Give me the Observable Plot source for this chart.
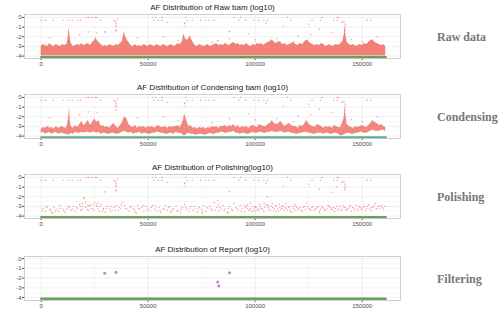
<!DOCTYPE html>
<html><head><meta charset="utf-8">
<script src="https://cdn.jsdelivr.net/npm/d3@7"></script>
<script src="https://cdn.jsdelivr.net/npm/@observablehq/plot@0.6"></script>
<style>
body{margin:0;background:#fff;}
#wrap{position:relative;width:498px;height:322px;overflow:hidden;background:#fff;}
.panel{position:absolute;left:0;}
.lab{position:absolute;left:437px;font-family:"Liberation Serif",serif;font-weight:bold;font-size:12px;color:#777;transform:translateY(-50%);white-space:nowrap;}
</style></head><body><div id="wrap"></div>
<script>
// ---- data (positions in thousands of bp, values are log10 AF) ----
const titles = ["AF Distribution of Raw bam (log10)", "AF Distribution of Condensing bam (log10)", "AF Distribution of Polishing(log10)", "AF Distribution of Report (log10)"];
const stepLabels = ["Raw data", "Condensing", "Polishing", "Filtering"];
const xTicks = [0, 50000, 100000, 150000];
const xMinor = [25000, 75000, 125000];
const yTicks = [0, -1, -2, -3, -4];
const yMinor = [-0.5, -1.5, -2.5, -3.5];
const bandFloor = -4.0;        // lowest non-zero log10 AF in raw bam
const zeroAF = [[0, -4.12], [161, -4.12]]; // AF = 0 sites

// raw bam dense band: [pos(k), top log10 AF]
const rawTop = [[0,-3.0],[1,-2.8],[2,-2.9],[3,-3.0],[4,-2.7],[5,-2.9],[6,-3.0],[7,-2.8],[8,-2.9],[9,-3.0],[10,-2.8],[11,-2.9],[12,-2.8],[12.5,-2.3],[13,-1.1],[13.5,-2.0],[14,-2.7],[15,-3.0],[16,-2.9],[17,-2.8],[18,-2.9],[19,-2.7],[20,-2.9],[21,-2.8],[22,-2.7],[23,-2.9],[24,-2.6],[25,-2.4],[25.5,-2.1],[26,-2.3],[27,-2.6],[28,-2.8],[29,-3.0],[30,-2.9],[31,-3.0],[32,-2.8],[33,-2.9],[34,-3.0],[35,-2.8],[36,-2.9],[37,-2.7],[38,-2.5],[38.7,-1.5],[39.3,-1.9],[40,-2.3],[41,-2.6],[42,-2.9],[43,-3.0],[44,-2.8],[45,-3.0],[46,-2.9],[47,-3.0],[48,-2.8],[49,-2.9],[50,-3.0],[51,-2.8],[52,-2.9],[53,-3.0],[54,-2.8],[55,-2.9],[56,-3.0],[57,-2.8],[58,-2.9],[59,-3.0],[60,-2.9],[61,-2.8],[62,-3.0],[63,-2.9],[64,-2.7],[65,-2.8],[66,-2.5],[66.7,-1.7],[67.2,-2.1],[68,-2.4],[69,-2.2],[69.7,-1.9],[70.3,-2.3],[71,-2.6],[72,-2.9],[73,-3.0],[74,-2.8],[75,-2.9],[76,-3.0],[77,-2.9],[78,-2.8],[79,-3.0],[80,-2.9],[81,-2.8],[82,-2.7],[83,-2.9],[84,-2.8],[85,-2.9],[86,-2.7],[87,-2.8],[88,-2.9],[89,-2.7],[90,-2.6],[91,-2.8],[92,-2.7],[93,-2.9],[94,-2.8],[95,-2.9],[96,-2.7],[97,-2.9],[98,-3.0],[99,-2.8],[100,-2.9],[101,-2.7],[102,-2.8],[103,-2.7],[104,-2.9],[105,-2.7],[106,-2.6],[107,-2.5],[108,-2.3],[109,-2.6],[110,-2.7],[111,-2.5],[112,-2.6],[113,-2.8],[114,-2.7],[115,-2.9],[116,-2.8],[117,-2.7],[118,-2.6],[119,-2.8],[120,-2.9],[121,-2.7],[122,-2.8],[123,-2.6],[124,-2.3],[125,-2.5],[126,-2.7],[127,-2.8],[128,-2.9],[129,-2.8],[130,-2.9],[131,-2.7],[132,-2.8],[133,-3.0],[134,-2.9],[135,-2.8],[136,-3.0],[137,-2.9],[138,-2.8],[139,-2.9],[140,-2.7],[141,-2.5],[141.6,-1.8],[142,-1.0],[142.4,-1.9],[143,-2.6],[144,-2.8],[145,-2.9],[146,-2.8],[147,-3.0],[148,-2.9],[149,-2.8],[150,-2.9],[151,-2.7],[152,-2.8],[153,-2.6],[154,-2.4],[155,-2.3],[156,-2.6],[157,-2.7],[158,-2.8],[159,-2.9],[160,-2.8],[161,-3.0]];

// condensing band: [pos(k), low, high]
const condBand = [[0,-3.7,-3.3],[1,-3.6,-3.1],[2,-3.8,-3.2],[3,-3.7,-3.0],[4,-3.6,-3.2],[5,-3.8,-3.1],[6,-3.7,-3.3],[7,-3.6,-3.0],[8,-3.8,-3.2],[9,-3.7,-3.1],[10,-3.7,-3.0],[11,-3.8,-3.2],[12,-3.8,-3.1],[12.8,-3.9,-2.2],[13.2,-3.9,-1.1],[13.6,-3.8,-2.4],[14,-3.7,-3.0],[15,-3.8,-3.2],[16,-3.6,-2.9],[17,-3.7,-3.1],[18,-3.7,-2.8],[19,-3.6,-2.5],[20,-3.7,-2.9],[21,-3.6,-2.7],[22,-3.6,-2.4],[23,-3.7,-2.9],[24,-3.6,-2.6],[25,-3.6,-2.2],[26,-3.7,-2.6],[27,-3.6,-2.4],[28,-3.8,-3.0],[29,-3.7,-2.9],[30,-3.7,-3.1],[31,-3.8,-3.0],[32,-3.8,-3.2],[33,-3.7,-2.9],[34,-3.7,-2.7],[35,-3.8,-3.0],[36,-3.8,-3.2],[37,-3.7,-2.9],[38,-3.6,-2.6],[39,-3.5,-2.0],[40,-3.6,-2.2],[41,-3.7,-2.8],[42,-3.6,-3.0],[43,-3.8,-3.1],[44,-3.7,-2.9],[45,-3.7,-3.2],[46,-3.6,-3.0],[47,-3.8,-3.1],[48,-3.7,-3.0],[49,-3.7,-3.2],[50,-3.8,-3.0],[51,-3.8,-3.1],[52,-3.7,-3.0],[53,-3.7,-3.2],[54,-3.6,-3.0],[55,-3.6,-2.9],[56,-3.7,-3.1],[57,-3.7,-3.1],[58,-3.8,-3.0],[59,-3.8,-3.2],[60,-3.7,-3.0],[61,-3.7,-3.1],[62,-3.8,-3.0],[63,-3.6,-3.0],[64,-3.7,-2.9],[65,-3.7,-3.1],[66.5,-3.9,-2.4],[67,-4.0,-1.7],[68,-3.8,-2.4],[69,-3.7,-3.0],[70,-3.8,-2.9],[71,-3.8,-3.2],[72,-3.9,-3.1],[73,-3.9,-3.3],[74,-3.8,-3.1],[75,-3.8,-3.2],[76,-3.9,-3.1],[77,-3.9,-3.3],[78,-3.8,-3.1],[79,-3.7,-3.2],[80,-3.8,-3.0],[81,-3.8,-3.1],[82,-3.7,-3.0],[83,-3.7,-3.2],[84,-3.6,-3.0],[85,-3.6,-3.0],[86,-3.7,-2.9],[87,-3.7,-3.1],[88,-3.6,-2.9],[89,-3.6,-3.0],[90,-3.5,-2.8],[91,-3.7,-3.1],[92,-3.7,-2.9],[93,-3.8,-3.2],[94,-3.7,-3.0],[95,-3.7,-3.1],[96,-3.8,-3.0],[97,-3.8,-3.2],[98,-3.7,-3.0],[99,-3.6,-2.9],[100,-3.7,-3.0],[101,-3.7,-3.1],[102,-3.6,-2.8],[103,-3.6,-2.9],[104,-3.7,-3.0],[105,-3.7,-3.0],[106,-3.6,-2.8],[107,-3.6,-2.7],[108,-3.5,-2.4],[109,-3.6,-2.7],[110,-3.6,-2.8],[111,-3.6,-2.7],[112,-3.5,-2.5],[113,-3.6,-2.8],[114,-3.7,-3.0],[115,-3.6,-2.8],[116,-3.6,-2.7],[117,-3.7,-2.9],[118,-3.7,-3.0],[119,-3.8,-3.0],[120,-3.8,-3.2],[121,-3.7,-2.9],[122,-3.7,-3.0],[123,-3.6,-2.8],[124,-3.6,-2.4],[125,-3.7,-2.7],[126,-3.7,-2.9],[127,-3.8,-3.0],[128,-3.8,-3.1],[129,-3.7,-2.8],[130,-3.7,-2.9],[131,-3.7,-3.0],[132,-3.8,-3.2],[133,-3.7,-3.0],[134,-3.7,-3.1],[135,-3.8,-3.0],[136,-3.8,-3.2],[137,-3.7,-2.9],[138,-3.7,-3.0],[139,-3.8,-3.1],[140,-4.0,-3.1],[141.5,-3.9,-2.2],[142,-3.8,-1.1],[142.5,-3.8,-2.0],[143,-3.7,-2.8],[144,-3.7,-3.0],[145,-3.8,-3.1],[146,-3.8,-3.2],[147,-3.7,-3.0],[148,-3.7,-3.1],[149,-3.6,-3.0],[150,-3.6,-2.9],[151,-3.7,-3.0],[152,-3.7,-3.1],[153,-3.6,-2.9],[154,-3.5,-2.7],[155,-3.4,-2.4],[156,-3.5,-2.6],[157,-3.5,-2.7],[158,-3.5,-2.9],[159,-3.4,-2.8],[160,-3.4,-3.0],[161,-3.5,-3.1]];

// polishing: individual low-AF sites [pos(k), log10 AF]
const polishSites = [[1,-3.2],[2,-3.5],[3,-3.0],[4,-3.4],[5,-3.6],[6,-3.1],[7,-3.3],[8,-3.5],[9,-2.9],[10,-3.2],[11,-3.6],[12,-3.3],[13,-3.1],[14,-3.4],[15,-3.0],[16,-3.5],[17,-3.2],[18,-2.8],[19,-3.3],[20,-2.2],[20.5,-2.7],[21,-3.1],[22,-3.4],[23,-2.9],[24,-3.2],[25,-2.6],[26,-3.0],[27,-3.5],[28,-2.8],[29,-3.3],[30,-3.6],[31,-3.0],[32,-3.3],[33,-3.5],[34,-3.1],[35,-2.9],[36,-3.4],[37,-3.2],[38,-2.6],[39,-2.9],[40,-3.3],[41,-3.5],[42,-3.0],[43,-3.2],[44,-3.6],[45,-2.9],[46,-3.3],[47,-3.1],[48,-3.5],[49,-3.0],[50,-3.2],[51,-3.4],[52,-2.9],[53,-3.3],[54,-3.5],[55,-3.1],[56,-3.6],[57,-3.2],[58,-2.9],[59,-3.4],[60,-3.0],[61,-3.5],[62,-3.2],[63,-3.0],[64,-3.4],[65,-3.6],[66,-3.1],[67,-2.8],[68,-3.3],[69,-3.5],[70,-3.0],[71,-3.4],[72,-3.2],[73,-3.6],[74,-3.1],[75,-3.3],[76,-2.9],[77,-3.5],[78,-3.2],[79,-3.0],[80,-3.4],[81,-2.6],[82,-3.1],[83,-3.5],[84,-3.3],[85,-2.9],[86,-3.2],[87,-3.6],[88,-3.0],[89,-3.3],[90,-2.7],[91,-3.1],[92,-3.4],[93,-2.9],[94,-3.2],[95,-3.6],[96,-3.0],[97,-3.4],[98,-3.2],[99,-3.5],[100,-3.0],[101,-3.3],[102,-2.8],[103,-3.2],[104,-3.5],[105,-2.9],[106,-3.1],[107,-3.4],[108,-2.7],[109,-3.2],[110,-3.0],[111,-3.5],[112,-3.3],[113,-2.9],[114,-3.1],[115,-3.4],[116,-3.0],[117,-3.6],[118,-3.2],[119,-2.9],[120,-3.3],[121,-3.1],[122,-3.5],[123,-3.0],[124,-2.7],[125,-3.2],[126,-3.4],[127,-3.0],[128,-3.3],[129,-3.1],[130,-3.5],[131,-3.0],[132,-3.2],[133,-3.4],[134,-2.9],[135,-3.1],[136,-3.3],[137,-3.5],[138,-3.0],[139,-3.2],[140,-3.4],[141,-2.9],[142,-3.1],[143,-3.3],[144,-3.0],[145,-3.5],[146,-3.2],[147,-2.9],[148,-3.4],[149,-3.1],[150,-3.3],[151,-3.0],[152,-3.2],[153,-2.8],[154,-3.4],[155,-3.1],[156,-2.7],[157,-3.2],[158,-3.0],[159,-2.9],[160,-3.3],
[0.5,-3.4],[2.5,-3.1],[4.5,-3.3],[6.5,-3.5],[8.5,-3.2],[10.5,-3.4],[12.5,-3.0],[14.5,-3.3],[16.5,-3.1],[18.5,-3.4],[19.5,-3.0],[21.5,-3.3],[22.5,-2.9],[24.5,-3.4],[26.5,-3.2],[28.5,-3.5],[30.5,-3.2],[32.5,-3.0],[34.5,-3.4],[36.5,-3.1],[37.5,-2.8],[39.5,-3.2],[41.5,-3.1],[43.5,-3.4],[45.5,-3.2],[47.5,-2.9],[49.5,-3.4],[51.5,-3.1],[53.5,-3.0],[55.5,-3.4],[57.5,-3.3],[59.5,-3.1],[61.5,-3.3],[63.5,-3.5],[65.5,-3.3],[67.5,-3.1],[69.5,-3.2],[71.5,-3.0],[73.5,-3.3],[75.5,-3.5],[77.5,-3.1],[79.5,-3.3],[81.5,-3.4],[83.5,-3.1],[85.5,-3.4],[87.5,-3.2],[89.5,-3.4],[91.5,-3.2],[93.5,-3.5],[95.5,-3.1],[96.5,-2.8],[97.5,-3.3],[98.5,-3.0],[99.5,-3.3],[100.5,-3.1],[101.5,-3.4],[102.5,-3.0],[103.5,-3.3],[104.5,-3.1],[105.5,-2.8],[106.5,-3.3],[107.5,-3.0],[108.5,-3.4],[109.5,-2.9],[110.5,-3.3],[111.5,-3.1],[112.5,-3.0],[113.5,-3.4],[114.5,-3.2],[115.5,-3.1],[116.5,-3.3],[117.5,-3.0],[118.5,-3.4],[119.5,-3.1],[120.5,-3.2],[121.5,-3.4],[122.5,-3.1],[123.5,-3.3],[124.5,-3.0],[125.5,-3.3],[126.5,-3.1],[127.5,-3.4],[128.5,-3.2],[129.5,-3.0],[130.5,-3.3],[131.5,-3.1],[132.5,-3.4],[133.5,-3.2],[134.5,-3.0],[135.5,-3.3],[136.5,-3.1],[137.5,-3.2],[138.5,-3.4],[139.5,-3.0],[140.5,-3.3],[141.5,-3.1],[142.5,-3.4],[143.5,-3.2],[144.5,-2.9],[145.5,-3.1],[146.5,-3.4],[147.5,-3.2],[148.5,-3.0],[149.5,-3.3],[150.5,-3.1],[151.5,-3.4],[152.5,-3.0],[153.5,-3.2],[154.5,-3.1],[155.5,-2.9],[156.5,-3.3],[157.5,-3.0],[158.5,-3.2],[159.5,-3.1],[160.5,-3.0],
[18.3,-3.0],[19.2,-2.7],[20.8,-2.5],[21.8,-2.9],[23.3,-3.2],[24.2,-2.8],[25.7,-2.9],[26.3,-2.7],[27.4,-3.0],[29.2,-3.2],[95.2,-2.9],[96.3,-3.2],[97.8,-2.7],[98.2,-3.5],[99.8,-3.1],[100.3,-3.5],[102.2,-3.2],[104.2,-2.7],[106.2,-2.9],[108.2,-3.1],[109.8,-3.5],[111.3,-2.8],[112.7,-3.2],[114.3,-2.7],[116.2,-3.5],[118.3,-2.8],[60.3,-3.6],[75.2,-3.7],[44.6,-3.7],[130.2,-3.7],[87.3,-3.7],[5.3,-3.7]];

// high-AF sites shared by raw / condensing / polishing: [pos(k), log10 AF]
const highSites = [[0,-0.3],[2,-0.3],[5.6,-0.3],[10,-0.3],[12.9,-0.3],[14.5,-0.3],[17.1,-0.3],[18.4,-0.3],[27.7,-0.3],[33.9,-0.3],[52.6,-0.3],[54.7,-0.3],[56.5,-0.3],[68.2,-0.3],[70.6,-0.3],[74.4,-0.3],[76.8,-0.3],[78.3,-0.3],[80.7,-0.3],[92.3,-0.3],[95.5,-0.3],[99.3,-0.3],[101.7,-0.3],[104,-0.3],[105.6,-0.3],[116.5,-0.3],[126.6,-0.3],[130.5,-0.3],[136.7,-0.3],[138.3,-0.3],[152.3,-0.3],[154.2,-0.3],
[21.2,0],[22.2,0],[23.8,0],[25.4,0],[26.2,0],[51.9,0],[53.4,0],[56.5,0],[67.4,0],[90,0],[93.1,0],[115,0],[131.3,0],[138.3,0],[139,0],
[34.5,-0.4],[35,-0.6],[34.8,-0.8],[35.2,-1.0],[35,-1.3],[35.5,-0.2],[67,-0.6],[66.8,-0.9],[142,-0.7],[142.2,-0.9],[141.8,-1.1],[142,-1.3],[140.5,-0.5],[141.5,-0.4],[113,-0.9],[125,-0.7],[105,-0.6],[59,-0.5],[130,-1.2],[136,-1.6]];
// mid-AF sites (raw & condensing)
const midSites = [[4,-2.1],[18,-1.8],[22,-1.5],[45,-2.1],[57,-2.0],[80,-2.6],[97,-1.7],[110,-2.2],[118,-2.5],[126,-1.8],[145,-2.3],[150,-2.5],[157,-2.0],[26,-1.6],[88,-2.2],[120,-1.9],[64,-2.4],[100,-2.3]];
// sites kept in the final report: [pos(k), log10 AF]
const reportSites = [[29.7,-1.5],[35,-1.4],[82.5,-2.4],[83,-2.8],[88,-1.45]];
// polishing mid sites
const polishMid = [[105.6,-2.0],[138,-1.0],[20,-2.1]];

const RED = "#F07A70", GREEN = "#6a9f5e", BLUE = "#619CFF", PURPLE = "#C966C9";
const K = d => d[0] * 1000;

function panel(i, top, marks, ydom) {
  const p = Plot.plot({
    width: 401, height: 80,
    marginTop: 14, marginBottom: 22, marginLeft: 24, marginRight: 1,
    style: {fontFamily: "Liberation Sans, Arial, sans-serif", fontSize: "6px", color: "#4d4d4d", background: "transparent", overflow: "visible"},
    x: {domain: [-7800, 167900], ticks: xTicks, tickFormat: d => String(d), label: null, tickSize: 2, tickPadding: 1},
    y: {domain: ydom || [-4.25, 0.3], ticks: yTicks, tickFormat: d => String(d), label: null, tickSize: 2, tickPadding: 1},
    marks: [
      Plot.gridX(xMinor, {stroke: "#f2f2f2", strokeOpacity: 1, strokeWidth: 0.5}),
      Plot.gridY(yMinor, {stroke: "#f2f2f2", strokeOpacity: 1, strokeWidth: 0.5}),
      Plot.gridX(xTicks, {stroke: "#e6e6e6", strokeOpacity: 1, strokeWidth: 0.6}),
      Plot.gridY(yTicks, {stroke: "#e6e6e6", strokeOpacity: 1, strokeWidth: 0.6}),
      ...marks,
      Plot.frame({stroke: "#c4c4c4", strokeWidth: 0.8}),
      Plot.text([titles[i]], {frameAnchor: "top", dy: -7, fontSize: 8, fill: "#1a1a1a", lineAnchor: "middle"})
    ]
  });
  const div = document.createElement("div");
  div.className = "panel";
  div.style.top = top + "px";
  div.appendChild(p);
  document.getElementById("wrap").appendChild(div);
  const lab = document.createElement("div");
  lab.className = "lab";
  lab.textContent = stepLabels[i];
  lab.style.top = (top + 37) + "px";
  document.getElementById("wrap").appendChild(lab);
}

const greenLine = Plot.line(zeroAF, {x: K, y: d => d[1], stroke: GREEN, strokeWidth: 2.3});
const highDots = Plot.dot(highSites, {x: K, y: d => d[1], r: 0.7, fill: RED, fillOpacity: 0.8});
const midDots = Plot.dot(midSites, {x: K, y: d => d[1], r: 0.7, fill: RED, fillOpacity: 0.8});

panel(0, 0, [
  Plot.areaY(rawTop, {x: K, y1: () => bandFloor, y2: d => d[1], fill: RED, fillOpacity: 0.95}),
  greenLine, highDots, midDots,
  Plot.dot(reportSites.filter((d, j) => j !== 3), {x: K, y: d => d[1], r: 0.8, fill: BLUE, fillOpacity: 0.7})
]);
panel(1, 80, [
  Plot.areaY(condBand, {x: K, y1: d => d[1], y2: d => d[2], fill: RED, fillOpacity: 0.9}),
  Plot.line(zeroAF, {x: K, y: d => d[1] - 0.02, stroke: "#5fae8a", strokeWidth: 2.3}),
  highDots, midDots
]);
panel(2, 160, [
  Plot.dot(polishSites, {x: K, y: d => d[1], r: 0.7, fill: RED, fillOpacity: 0.75}),
  Plot.dot(polishMid, {x: K, y: d => d[1], r: 0.7, fill: RED, fillOpacity: 0.8}),
  Plot.dot(reportSites, {x: K, y: d => d[1], r: 0.7, fill: RED, fillOpacity: 0.8}),
  greenLine, highDots
]);
panel(3, 242, [
  greenLine,
  Plot.dot(reportSites, {x: K, y: d => d[1], r: 1.5, fill: PURPLE, fillOpacity: 0.85})
], [-4.3, 0.22]);
</script></body></html>
